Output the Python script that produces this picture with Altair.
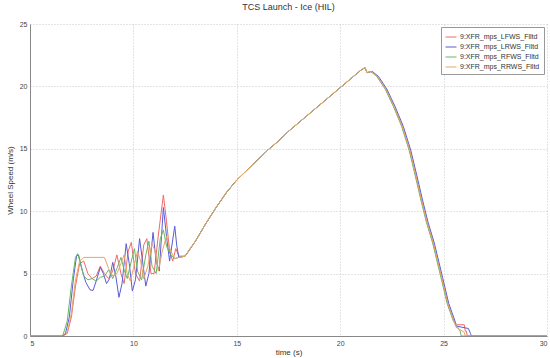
import altair as alt
import pandas as pd

series_names = ["9:XFR_mps_LFWS_Flltd", "9:XFR_mps_LRWS_Flltd", "9:XFR_mps_RFWS_Flltd", "9:XFR_mps_RRWS_Flltd"]
series_colors = ["#ee6a6a", "#5b5bd6", "#66b866", "#e9a464"]

# launch phase (hand-read) per wheel
lf_t = [5, 6.5, 6.8, 7.0, 7.2, 7.4, 7.6, 7.8, 8.0, 8.2, 8.4, 8.6, 8.8, 9.0, 9.2, 9.4, 9.55, 9.75, 9.9, 10.1, 10.3, 10.5, 10.65, 10.85, 11.0, 11.2, 11.45, 11.6, 11.75, 11.9, 12.05, 12.2]
lf_v = [0, 0, 0.2, 1.5, 4.0, 5.8, 6.0, 5.0, 4.6, 4.8, 5.6, 5.0, 4.6, 5.2, 6.5, 5.0, 4.2, 6.8, 7.5, 5.0, 4.4, 7.3, 7.8, 5.0, 5.0, 8.0, 11.3, 9.2, 6.8, 6.0, 7.0, 6.4]

lr_t = [5, 6.5, 6.7, 6.9, 7.1, 7.25, 7.35, 7.5, 7.7, 7.9, 8.05, 8.2, 8.4, 8.55, 8.7, 8.85, 9.0, 9.15, 9.3, 9.45, 9.65, 9.8, 9.95, 10.1, 10.3, 10.45, 10.6, 10.75, 10.95, 11.1, 11.25, 11.45, 11.6, 11.75, 12.0, 12.1, 12.2]
lr_v = [0, 0, 0.1, 1.5, 4.6, 6.4, 6.5, 5.4, 4.3, 3.7, 3.65, 4.4, 5.5, 5.0, 4.2, 4.6, 5.9, 4.8, 3.1, 4.2, 7.4, 5.8, 3.6, 4.5, 7.8, 5.9, 4.0, 5.0, 8.3, 6.0, 5.2, 10.3, 8.0, 6.0, 8.8, 7.2, 6.3]

rf_t = [5, 6.5, 6.6, 6.8, 7.0, 7.2, 7.3, 7.45, 7.6, 7.8, 8.0, 8.2, 8.4, 8.6, 8.8, 9.0, 9.2, 9.4, 9.55, 9.7, 9.9, 10.05, 10.2, 10.4, 10.6, 10.75, 10.9, 11.1, 11.3, 11.45, 11.6, 11.8, 12.0, 12.2]
rf_v = [0, 0, 0.1, 1.2, 4.0, 6.3, 6.6, 5.8, 4.8, 4.5, 4.6, 4.4, 4.7, 4.8, 5.3, 4.6, 5.4, 6.3, 5.3, 4.6, 6.0, 7.0, 5.2, 4.5, 6.5, 7.6, 5.6, 5.0, 7.8, 8.5, 7.2, 6.5, 6.2, 6.3]

rr_t = [5, 6.5, 6.8, 7.0, 7.2, 7.4, 7.6, 8.6, 8.8, 9.0, 9.2, 9.4, 9.55, 9.7, 9.85, 10.0, 10.2, 10.35, 10.5, 10.7, 10.9, 11.05, 11.2, 11.4, 11.6, 11.8, 12.0, 12.2]
rr_v = [0, 0, 0.3, 1.8, 4.5, 6.0, 6.3, 6.3, 5.4, 4.8, 5.0, 5.8, 6.5, 5.0, 4.4, 5.4, 6.8, 6.0, 4.6, 5.6, 7.4, 6.8, 5.2, 6.8, 8.0, 6.8, 6.2, 6.3]

# acceleration ramp and coast-down shared by all wheels (hand-read)
ramp_t = [12.5, 13.0, 13.5, 14.0, 14.5, 15.0, 15.5, 16.0, 16.5, 17.0, 17.5, 18.0, 18.5, 19.0, 19.5, 20.0, 20.5, 21.0, 21.2, 21.3, 21.5, 21.8, 22.2, 22.6, 23.0, 23.36, 23.65, 23.93, 24.2, 24.5, 24.9, 25.2, 25.5]
ramp_v = [6.4, 7.6, 9.0, 10.3, 11.5, 12.5, 13.3, 14.1, 14.9, 15.6, 16.4, 17.1, 17.8, 18.5, 19.2, 19.9, 20.6, 21.3, 21.5, 21.1, 21.2, 20.8, 19.8, 18.4, 16.8, 14.9, 12.9, 10.9, 9.1, 7.45, 4.7, 2.6, 1.2]

# wheel-specific stop tails
lf_tail_t = [25.6, 25.65, 26.0, 26.05, 26.1, 26.15, 30]
lf_tail_v = [1.0, 0.9, 0.9, 0.4, 0.4, 0.0, 0.0]
lr_tail_t = [25.6, 26.2, 26.3, 26.35, 30]
lr_tail_v = [0.8, 0.6, 0.2, 0.0, 0.0]
rf_tail_t = [25.6, 25.8, 25.85, 30]
rf_tail_v = [0.9, 0.4, 0.0, 0.0]
rr_tail_t = [25.6, 26.0, 26.05, 30]
rr_tail_v = [0.7, 0.3, 0.0, 0.0]

rows = []
parts = [
    (lf_t, lf_v, lf_tail_t, lf_tail_v, 0.0),
    (lr_t, lr_v, lr_tail_t, lr_tail_v, 0.05),
    (rf_t, rf_v, rf_tail_t, rf_tail_v, -0.03),
    (rr_t, rr_v, rr_tail_t, rr_tail_v, 0.0),
]
for name, (lt, lv, tt, tv, shift) in zip(series_names, parts):
    ts = list(lt) + [t + (shift if t > 21.3 else 0) for t in ramp_t] + list(tt)
    vs = list(lv) + list(ramp_v) + list(tv)
    for i, (t, v) in enumerate(zip(ts, vs)):
        rows.append({"time": t, "speed": v, "series": name, "idx": i})
df = pd.DataFrame(rows)

font = "Liberation Sans"

chart = alt.Chart(df).mark_line(strokeWidth=1, clip=True).encode(
    x=alt.X("time:Q", title="time (s)",
            scale=alt.Scale(domain=[5, 30], nice=False, zero=False),
            axis=alt.Axis(values=[5, 10, 15, 20, 25, 30], format="d", ticks=False,
                          labelFontSize=7, labelColor="#444", labelPadding=3,
                          titleFontSize=8, titleColor="#333", titleFontWeight="normal", titlePadding=2,
                          gridColor="#c8c8c8", gridDash=[1, 2], domainColor="#888")),
    y=alt.Y("speed:Q", title="Wheel Speed (m/s)",
            scale=alt.Scale(domain=[0, 25], nice=False),
            axis=alt.Axis(values=[0, 5, 10, 15, 20, 25], format="d", ticks=False,
                          labelFontSize=7, labelColor="#444", labelPadding=3,
                          titleFontSize=8, titleColor="#333", titleFontWeight="normal", titlePadding=5,
                          gridColor="#c8c8c8", gridDash=[1, 2], domainColor="#888")),
    color=alt.Color("series:N", sort=series_names,
                    scale=alt.Scale(domain=series_names, range=series_colors),
                    legend=alt.Legend(title=None, orient="top-right", offset=3,
                                      symbolType="stroke", symbolStrokeWidth=1, symbolSize=120,
                                      labelFontSize=7, labelColor="#333", labelFont=font,
                                      fillColor="white", strokeColor="#999",
                                      padding=4, rowPadding=1, labelOffset=3, labelLimit=200)),
    order=alt.Order("idx:Q"),
).properties(
    width=517, height=312,
    title=alt.TitleParams("TCS Launch - Ice (HIL)", fontSize=9, fontWeight="normal",
                          color="#333", offset=8, font=font),
    autosize=alt.AutoSizeParams(type="none"),
    padding={"left": 30, "top": 24, "right": 3, "bottom": 22},
).configure_view(stroke=None).configure_axis(labelFont=font, titleFont=font)

chart.save("out.html", embed_options={"renderer": "svg", "actions": False})
